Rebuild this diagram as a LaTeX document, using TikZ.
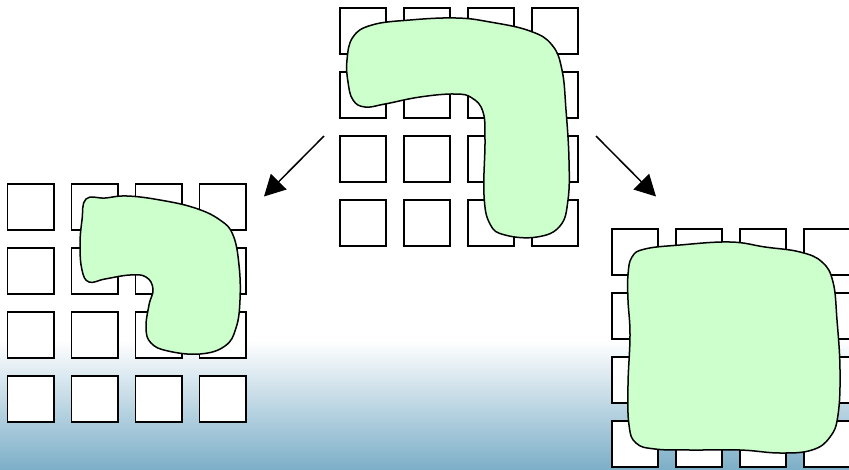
\documentclass[tikz,border=0pt]{standalone}
\usetikzlibrary{arrows.meta}
\definecolor{blobgreen}{HTML}{CCFFCC}
\definecolor{seablue}{HTML}{7DAFC8}
\begin{document}
\begin{tikzpicture}[x=1pt,y=-1pt,
  cell/.style={draw=black, fill=white, line width=1.8pt, minimum size=46.2pt, inner sep=0pt, shape=rectangle},
  blob/.style={draw=black, fill=blobgreen, line width=1.5pt},
  flow/.style={line width=1.5pt, -{Triangle[length=21pt,width=22pt]}}]
\useasboundingbox (0,0) rectangle (849,469);
% pale sea gradient along the bottom
\shade[top color=white, bottom color=seablue] (0,340) rectangle (849,469);
\fill[white] (0,0) rectangle (849,340.5);

% three 4x4 grids of cells
\foreach \i in {0,...,3}{
  \foreach \j in {0,...,3}{
    \node[cell] (t-\i-\j) at ({363+64*\i},{31+64*\j}) {};
    \node[cell] (l-\i-\j) at ({30.5+64*\i},{207+64*\j}) {};
    \node[cell] (r-\i-\j) at ({635+64*\i},{252+64*\j}) {};
  }
}

% region on the upper grid
\draw[blob] plot[smooth cycle, tension=0.7] coordinates {
  (347,60) (353,37) (372,25) (410,20) (456,18) (490,22) (530,31) (552,45)
  (562,70) (566,110) (569,160) (568,200) (560,226) (537,237) (505,235)
  (490,224) (484,195) (485,140) (483,112) (472,98) (455,94) (420,97)
  (385,104) (365,107) (353,100) (348,82)};

% shrunk region on the left grid
\draw[blob] plot[smooth cycle, tension=0.7] coordinates {
  (86,199) (105,198) (127,196) (160,200) (195,208) (220,220) (233,235)
  (239,265) (240,300) (236,328) (225,346) (200,354) (168,351) (151,343)
  (146,328) (149,305) (153,289) (146,277) (130,275) (105,279) (89,282)
  (82,270) (80,245) (82,220)};

% grown region on the right grid
\draw[blob] plot[smooth cycle, tension=0.7] coordinates {
  (628,275) (632,257) (645,249) (680,245) (730,242) (765,247) (800,252)
  (822,262) (833,282) (837,320) (840,370) (838,415) (830,437) (812,450)
  (780,453) (740,450) (690,450) (655,449) (636,443) (629,425) (628,385)
  (630,335) (628,300)};

% arrows from the upper grid to the two results
\coordinate (la) at (324,136);
\coordinate (lb) at (264,196.5);
\coordinate (ra) at (596,136);
\coordinate (rb) at (656,196.5);
\draw[flow] (la) -- (lb);
\draw[flow] (ra) -- (rb);
\end{tikzpicture}
\end{document}
